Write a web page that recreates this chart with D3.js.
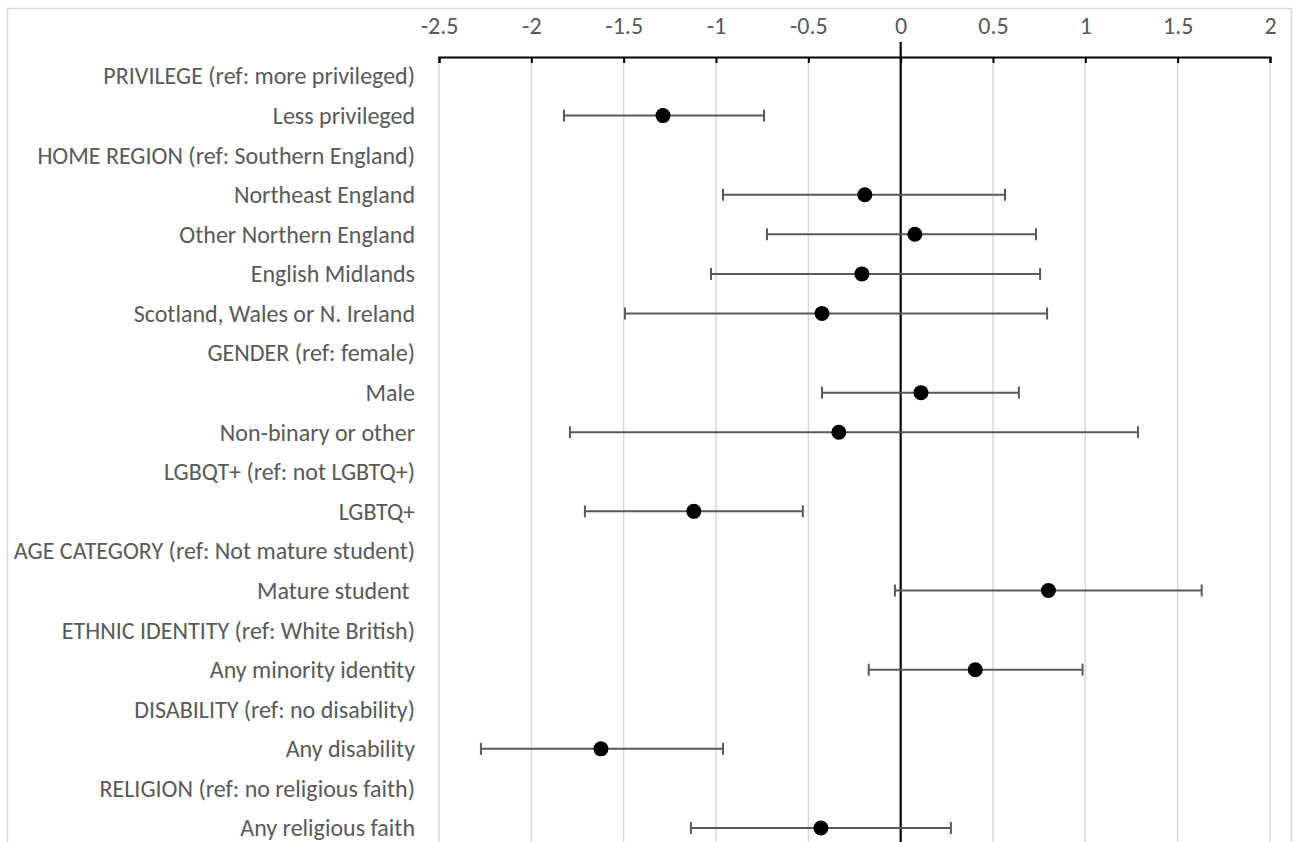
<!DOCTYPE html>
<html>
<head>
<meta charset="utf-8">
<script src="https://cdn.jsdelivr.net/npm/d3@7"></script>
<style>
  body { margin: 0; background: #fff; }
  text { font-family: Calibri, Carlito, Lato, "Open Sans", sans-serif; fill: #595959; }
</style>
</head>
<body>
<div id="chart"></div>
<script>
// row labels, top to bottom
var labels = [
    "PRIVILEGE (ref: more privileged)",
    "Less privileged",
    "HOME REGION (ref: Southern England)",
    "Northeast England",
    "Other Northern England",
    "English Midlands",
    "Scotland, Wales or N. Ireland",
    "GENDER (ref: female)",
    "Male",
    "Non-binary or other",
    "LGBQT+ (ref: not LGBTQ+)",
    "LGBTQ+",
    "AGE CATEGORY (ref: Not mature student)",
    "Mature student ",
    "ETHNIC IDENTITY (ref: White British)",
    "Any minority identity",
    "DISABILITY (ref: no disability)",
    "Any disability",
    "RELIGION (ref: no religious faith)",
    "Any religious faith"
];

// estimates (null = reference category header)
var estimate = [null, -1.287, null, -0.194, 0.077, -0.21, -0.426, null, 0.11, -0.335,
                null, -1.12, null, 0.80, null, 0.404, null, -1.623, null, -0.432];
var lower    = [null, -1.823, null, -0.962, -0.724, -1.027, -1.493, null, -0.426, -1.791,
                null, -1.71, null, -0.031, null, -0.173, null, -2.273, null, -1.136];
var upper    = [null, -0.740, null, 0.565, 0.733, 0.755, 0.793, null, 0.64, 1.285,
                null, -0.53, null, 1.63, null, 0.985, null, -0.962, null, 0.272];

var xTicks = [-2.5, -2, -1.5, -1, -0.5, 0, 0.5, 1, 1.5, 2];

var width = 1297, height = 842;
var fontSize = 24;

var data = labels.map(function (d, i) {
    return { label: d, est: estimate[i], lo: lower[i], hi: upper[i] };
});

var svg = d3.select('#chart').append('svg')
    .attr('width', width)
    .attr('height', height);

// chart border
svg.append('rect')
    .attr('x', 7.5).attr('y', 8.5)
    .attr('width', 1284).attr('height', 850)
    .attr('fill', 'none')
    .attr('stroke', '#d9d9d9')
    .attr('stroke-width', 1.5);

var xScale = d3.scaleLinear().domain([-2.5, 2]).range([439, 1270]);
var yScale = d3.scalePoint().domain(labels).range([76, 828]);

// gridlines
svg.append('g')
    .selectAll('line')
    .data(xTicks.filter(function (t) { return t !== 0; }))
    .enter().append('line')
    .attr('x1', function (d) { return xScale(d); })
    .attr('x2', function (d) { return xScale(d); })
    .attr('y1', 57).attr('y2', height)
    .attr('stroke', '#d9d9d9')
    .attr('stroke-width', 1.5);

// x axis on top
var xAxis = d3.axisTop(xScale).tickValues(xTicks).tickSize(-6)
    .tickFormat(function (d) { return String(d); });

var gx = svg.append('g')
    .attr('transform', 'translate(0,57)')
    .call(xAxis);
gx.select('.domain').attr('stroke', '#000').attr('stroke-width', 2);
gx.selectAll('.tick line').attr('stroke', '#000').attr('stroke-width', 2);
gx.selectAll('.tick text')
    .attr('font-size', fontSize)
    .attr('dy', 0)
    .attr('y', -23)
    .style('font-family', 'Calibri, Carlito, Lato, "Open Sans", sans-serif')
    .attr('fill', '#595959');

// zero line
svg.append('line')
    .attr('x1', xScale(0)).attr('x2', xScale(0))
    .attr('y1', 42).attr('y2', height)
    .attr('stroke', '#000')
    .attr('stroke-width', 2.2);

// row labels
svg.append('g')
    .selectAll('text')
    .data(data)
    .enter().append('text')
    .attr('x', 415)
    .attr('y', function (d) { return yScale(d.label); })
    .attr('dy', '0.35em')
    .attr('text-anchor', 'end')
    .attr('font-size', fontSize)
    .style('white-space', 'pre')
    .text(function (d) { return d.label; });

var pts = data.filter(function (d) { return d.est !== null; });

// error bars
var bars = svg.append('g').selectAll('g')
    .data(pts)
    .enter().append('g')
    .attr('stroke', '#595959')
    .attr('stroke-width', 2);

bars.append('line')
    .attr('x1', function (d) { return xScale(d.lo); })
    .attr('x2', function (d) { return xScale(d.hi); })
    .attr('y1', function (d) { return yScale(d.label); })
    .attr('y2', function (d) { return yScale(d.label); });
bars.append('line')
    .attr('x1', function (d) { return xScale(d.lo); })
    .attr('x2', function (d) { return xScale(d.lo); })
    .attr('y1', function (d) { return yScale(d.label) - 6; })
    .attr('y2', function (d) { return yScale(d.label) + 6; });
bars.append('line')
    .attr('x1', function (d) { return xScale(d.hi); })
    .attr('x2', function (d) { return xScale(d.hi); })
    .attr('y1', function (d) { return yScale(d.label) - 6; })
    .attr('y2', function (d) { return yScale(d.label) + 6; });

// points
svg.append('g').selectAll('circle')
    .data(pts)
    .enter().append('circle')
    .attr('cx', function (d) { return xScale(d.est); })
    .attr('cy', function (d) { return yScale(d.label); })
    .attr('r', 7.5)
    .attr('fill', '#000');
</script>
</body>
</html>
